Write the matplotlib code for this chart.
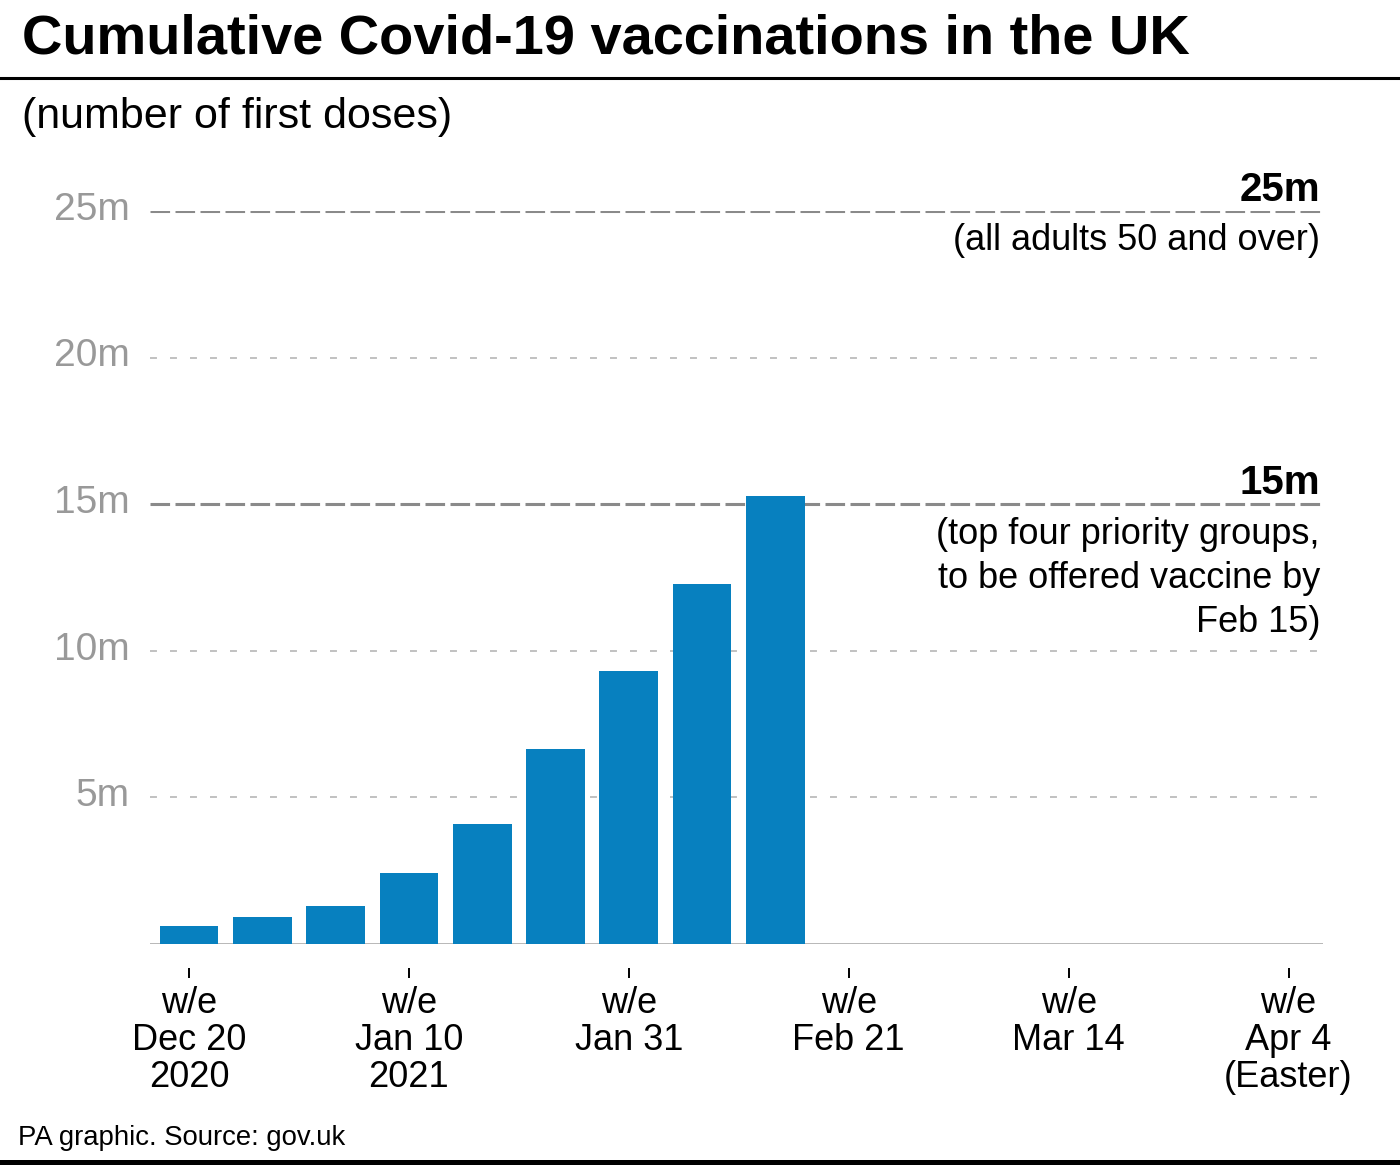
import matplotlib
matplotlib.use("Agg")
import matplotlib.pyplot as plt
from matplotlib.lines import Line2D
from matplotlib.transforms import blended_transform_factory, offset_copy

plt.rcParams['font.family'] = ['Liberation Sans', 'DejaVu Sans']
plt.rcParams['lines.scale_dashes'] = False

# data (millions of first doses, week ending Dec 20 2020 = week 0)
weeks = [0, 1, 2, 3, 4, 5, 6, 7, 8]
first_doses_m = [0.60, 0.89, 1.29, 2.40, 4.07, 6.63, 9.31, 12.28, 15.27]

tick_weeks = [0, 3, 6, 9, 12, 15]
tick_labels = ["w/e\nDec 20\n2020", "w/e\nJan 10\n2021", "w/e\nJan 31",
               "w/e\nFeb 21", "w/e\nMar 14", "w/e\nApr 4\n(Easter)"]

ytick_values = [5, 10, 15, 20, 25]
ytick_labels = ["5m", "10m", "15m", "20m", "25m"]

grid_values = [5, 10, 20]
target_values = [25, 15]
target_labels = ["25m", "15m"]
target_notes = ["(all adults 50 and over)",
                "(top four priority groups,\nto be offered vaccine by\nFeb 15)"]

W, H = 1400, 1172


def fx(px):
    return px / W


def fy(py):
    return 1 - py / H


fig = plt.figure(figsize=(W / 100, H / 100), dpi=100)
ax = fig.add_axes([fx(150), fy(943.5), fx(1323) - fx(150), fy(211) - fy(943.5)])
ax.set_xlim(-0.532, 15.47)
ax.set_ylim(0, 25)

# bars
ax.bar(weeks, first_doses_m, width=0.80, color='#0780bf', zorder=3)

# grid lines
right = (1320 - 150) / 1173
for v in grid_values:
    ax.axhline(v, xmin=0, xmax=right, color='#b0b0b0', lw=1.1,
               dashes=(5, 9.4), zorder=1)
for v in target_values:
    ax.axhline(v, xmin=0, xmax=right, color='#8a8a8a', lw=2.2,
               dashes=(14.1, 3.9), zorder=1)
ax.axhline(0, color='#a3a3a3', lw=1.8, zorder=2)

for s in ax.spines.values():
    s.set_visible(False)
ax.spines['bottom'].set_position(('outward', 17.6))

# x ticks
ax.set_yticks([])
ax.set_xticks(tick_weeks, tick_labels)
ax.tick_params(axis='x', length=7.2, width=1.4, color='black', pad=5.8,
               labelsize=26, labelcolor='black')
for lbl in ax.get_xticklabels():
    lbl.set_linespacing(1.08)

# y labels
bt = blended_transform_factory(ax.transAxes, ax.transData)
for v, lab in zip(ytick_values, ytick_labels):
    ax.text(-0.01705, v, lab, transform=offset_copy(bt, fig=fig, y=-9, units='dots'),
            ha='right', va='baseline', fontsize=28, color='#999999')

# target annotations
note_offsets = [-39, -128]
for v, lab, note, off in zip(target_values, target_labels, target_notes, note_offsets):
    ax.text(right, v, lab, transform=offset_copy(bt, fig=fig, y=10, units='dots'),
            ha='right', va='baseline', fontsize=29, fontweight='bold', color='black')
    ax.text(right, v, note, transform=offset_copy(bt, fig=fig, y=off, units='dots'),
            ha='right', va='baseline', fontsize=26, color='black', linespacing=1.34,
            multialignment='right')

# title block
fig.text(fx(22), fy(53), "Cumulative Covid-19 vaccinations in the UK",
         fontsize=40.3, fontweight='bold', va='baseline', color='black')
fig.add_artist(Line2D([0, 1], [fy(77.5), fy(77.5)], lw=2.2, color='black'))
fig.text(fx(22), fy(128), "(number of first doses)", fontsize=31,
         va='baseline', color='black')

# footer
fig.text(fx(18), fy(1145), "PA graphic. Source: gov.uk", fontsize=19.8,
         va='baseline', color='black')
fig.add_artist(Line2D([0, 1], [fy(1161.5), fy(1161.5)], lw=3.6, color='black'))

fig.savefig('out.png', dpi=100)
